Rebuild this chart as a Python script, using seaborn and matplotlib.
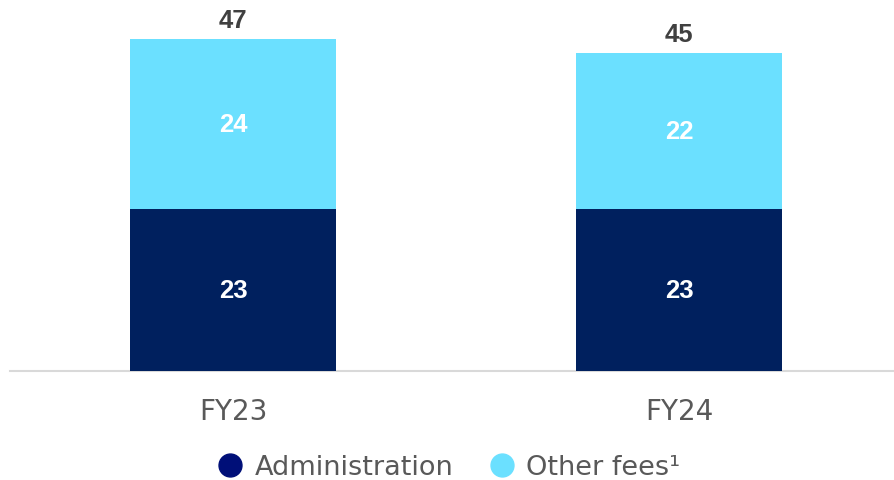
import matplotlib
matplotlib.use("Agg")
import matplotlib.pyplot as plt
from matplotlib.lines import Line2D
import seaborn as sns
import pandas as pd

categories = ["FY23", "FY24"]
administration = [23, 23]
other_fees = [24, 22]
totals = [a + o for a, o in zip(administration, other_fees)]
series_names = ["Administration", "Other fees\u00b9"]

DARK = "#00205E"
LIGHT = "#6BE0FF"
LEGEND_DARK = "#000F78"
TEXT_GREY = "#595959"

sns.set_theme(style="white")
plt.rcParams['font.family'] = ['DejaVu Sans']

df = pd.DataFrame({"cat": categories, "admin": administration,
                   "other": other_fees, "total": totals})

fig = plt.figure(figsize=(8.94, 4.81), dpi=100)
ax = fig.add_axes([0.0112, 1 - 372 / 481, 1 - 0.0112, 372 / 481])

sns.barplot(data=df, x="cat", y="total", color=LIGHT, width=0.462,
            saturation=1, ax=ax, zorder=2, linewidth=0, edgecolor="none")
sns.barplot(data=df, x="cat", y="admin", color=DARK, width=0.462,
            saturation=1, ax=ax, zorder=3, linewidth=0, edgecolor="none")

for i in range(len(categories)):
    ax.text(i, administration[i] / 2, str(administration[i]), ha="center",
            va="center", color="white", fontsize=18.5, fontweight="bold",
            family="Liberation Sans", zorder=5)
    ax.text(i, administration[i] + other_fees[i] / 2, str(other_fees[i]),
            ha="center", va="center", color="white", fontsize=18.5,
            fontweight="bold", family="Liberation Sans", zorder=5)
    ax.text(i, totals[i] + 1.0, str(totals[i]), ha="center", va="bottom",
            color="#404040", fontsize=18.5, fontweight="bold",
            family="Liberation Sans", zorder=5)

ax.set_xlim(-0.5, 1.482)
ax.set_ylim(0, 52.66)
ax.set_xlabel("")
ax.set_ylabel("")
ax.set_yticks([])
ax.tick_params(axis="x", length=0, pad=19, labelsize=20, labelcolor=TEXT_GREY)
for s in ["top", "right", "left"]:
    ax.spines[s].set_visible(False)
ax.spines["bottom"].set_color("#D9D9D9")
ax.spines["bottom"].set_linewidth(1.5)
ax.patch.set_alpha(0)

handles = [Line2D([], [], marker="o", linestyle="", markersize=16.5,
                  markerfacecolor=LEGEND_DARK, markeredgecolor=LEGEND_DARK),
           Line2D([], [], marker="o", linestyle="", markersize=16.5,
                  markerfacecolor=LIGHT, markeredgecolor=LIGHT)]
leg = fig.legend(handles, series_names, loc="center",
                 bbox_to_anchor=(0.5, 1 - 468 / 481), ncol=2, frameon=False,
                 fontsize=19.5, handletextpad=0.3, columnspacing=1.2,
                 handlelength=1.2)
for t in leg.get_texts():
    t.set_color(TEXT_GREY)

fig.savefig("out.png", dpi=100)
